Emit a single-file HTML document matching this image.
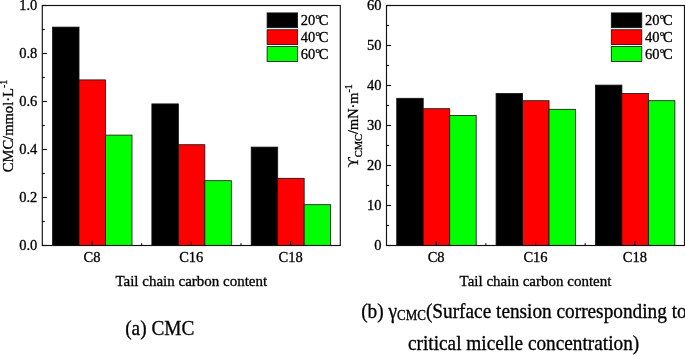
<!DOCTYPE html>
<html><head><meta charset="utf-8"><style>
html,body{margin:0;padding:0;background:#fff;}
svg{display:block;will-change:transform;}
.t{font-family:"Liberation Serif",serif;font-size:14.5px;fill:#000;stroke:#000;stroke-width:0.3px;}
.c{font-family:"Liberation Serif",serif;font-size:19.3px;fill:#000;stroke:#000;stroke-width:0.3px;}
</style></head><body>
<svg width="685" height="355" viewBox="0 0 685 355">
<rect x="0" y="0" width="685" height="355" fill="#fff"/>
<rect x="52.53" y="27.10" width="26.49" height="218.40" fill="#000000" stroke="#111" stroke-width="0.8"/>
<rect x="79.02" y="79.90" width="26.49" height="165.60" fill="#ff0000" stroke="#111" stroke-width="0.8"/>
<rect x="105.51" y="135.10" width="26.49" height="110.40" fill="#00ff00" stroke="#111" stroke-width="0.8"/>
<rect x="151.87" y="103.90" width="26.49" height="141.60" fill="#000000" stroke="#111" stroke-width="0.8"/>
<rect x="178.36" y="144.70" width="26.49" height="100.80" fill="#ff0000" stroke="#111" stroke-width="0.8"/>
<rect x="204.84" y="180.70" width="26.49" height="64.80" fill="#00ff00" stroke="#111" stroke-width="0.8"/>
<rect x="251.20" y="147.10" width="26.49" height="98.40" fill="#000000" stroke="#111" stroke-width="0.8"/>
<rect x="277.69" y="178.30" width="26.49" height="67.20" fill="#ff0000" stroke="#111" stroke-width="0.8"/>
<rect x="304.18" y="204.70" width="26.49" height="40.80" fill="#00ff00" stroke="#111" stroke-width="0.8"/>
<rect x="42.3" y="5.5" width="298.0" height="240.0" fill="none" stroke="#111" stroke-width="1.15"/>
<line x1="42.3" y1="245.50" x2="46.9" y2="245.50" stroke="#111" stroke-width="1.15"/>
<text x="37.3" y="250.40" text-anchor="end" class="t">0.0</text>
<line x1="42.3" y1="221.50" x2="44.8" y2="221.50" stroke="#111" stroke-width="1.15"/>
<line x1="42.3" y1="197.50" x2="46.9" y2="197.50" stroke="#111" stroke-width="1.15"/>
<text x="37.3" y="202.40" text-anchor="end" class="t">0.2</text>
<line x1="42.3" y1="173.50" x2="44.8" y2="173.50" stroke="#111" stroke-width="1.15"/>
<line x1="42.3" y1="149.50" x2="46.9" y2="149.50" stroke="#111" stroke-width="1.15"/>
<text x="37.3" y="154.40" text-anchor="end" class="t">0.4</text>
<line x1="42.3" y1="125.50" x2="44.8" y2="125.50" stroke="#111" stroke-width="1.15"/>
<line x1="42.3" y1="101.50" x2="46.9" y2="101.50" stroke="#111" stroke-width="1.15"/>
<text x="37.3" y="106.40" text-anchor="end" class="t">0.6</text>
<line x1="42.3" y1="77.50" x2="44.8" y2="77.50" stroke="#111" stroke-width="1.15"/>
<line x1="42.3" y1="53.50" x2="46.9" y2="53.50" stroke="#111" stroke-width="1.15"/>
<text x="37.3" y="58.40" text-anchor="end" class="t">0.8</text>
<line x1="42.3" y1="29.50" x2="44.8" y2="29.50" stroke="#111" stroke-width="1.15"/>
<line x1="42.3" y1="5.50" x2="46.9" y2="5.50" stroke="#111" stroke-width="1.15"/>
<text x="37.3" y="10.40" text-anchor="end" class="t">1.0</text>
<line x1="91.97" y1="245.5" x2="91.97" y2="241.1" stroke="#111" stroke-width="1.15"/>
<line x1="141.63" y1="245.5" x2="141.63" y2="243.2" stroke="#111" stroke-width="1.15"/>
<text x="91.97" y="261.7" text-anchor="middle" class="t">C8</text>
<line x1="191.30" y1="245.5" x2="191.30" y2="241.1" stroke="#111" stroke-width="1.15"/>
<line x1="240.97" y1="245.5" x2="240.97" y2="243.2" stroke="#111" stroke-width="1.15"/>
<text x="191.30" y="261.7" text-anchor="middle" class="t">C16</text>
<line x1="290.63" y1="245.5" x2="290.63" y2="241.1" stroke="#111" stroke-width="1.15"/>
<text x="290.63" y="261.7" text-anchor="middle" class="t">C18</text>
<text x="191.30" y="285.8" text-anchor="middle" class="t" style="font-size:15px">Tail chain carbon content</text>
<rect x="267.10" y="12.90" width="30.5" height="14.8" fill="#000000" stroke="#111" stroke-width="0.8"/>
<text x="300.80" y="24.80" class="t">20<tspan font-size="12.5" dy="-1.9">°</tspan><tspan dx="-1.5" dy="1.9">C</tspan></text>
<rect x="267.10" y="29.75" width="30.5" height="14.8" fill="#ff0000" stroke="#111" stroke-width="0.8"/>
<text x="300.80" y="41.65" class="t">40<tspan font-size="12.5" dy="-1.9">°</tspan><tspan dx="-1.5" dy="1.9">C</tspan></text>
<rect x="267.10" y="46.60" width="30.5" height="14.8" fill="#00ff00" stroke="#111" stroke-width="0.8"/>
<text x="300.80" y="58.50" class="t">60<tspan font-size="12.5" dy="-1.9">°</tspan><tspan dx="-1.5" dy="1.9">C</tspan></text>
<rect x="396.73" y="98.30" width="26.49" height="147.20" fill="#000000" stroke="#111" stroke-width="0.8"/>
<rect x="423.22" y="108.70" width="26.49" height="136.80" fill="#ff0000" stroke="#111" stroke-width="0.8"/>
<rect x="449.71" y="115.50" width="26.49" height="130.00" fill="#00ff00" stroke="#111" stroke-width="0.8"/>
<rect x="496.07" y="93.50" width="26.49" height="152.00" fill="#000000" stroke="#111" stroke-width="0.8"/>
<rect x="522.56" y="100.70" width="26.49" height="144.80" fill="#ff0000" stroke="#111" stroke-width="0.8"/>
<rect x="549.04" y="109.30" width="26.49" height="136.20" fill="#00ff00" stroke="#111" stroke-width="0.8"/>
<rect x="595.40" y="85.10" width="26.49" height="160.40" fill="#000000" stroke="#111" stroke-width="0.8"/>
<rect x="621.89" y="93.50" width="26.49" height="152.00" fill="#ff0000" stroke="#111" stroke-width="0.8"/>
<rect x="648.38" y="100.70" width="26.49" height="144.80" fill="#00ff00" stroke="#111" stroke-width="0.8"/>
<rect x="386.5" y="5.5" width="298.0" height="240.0" fill="none" stroke="#111" stroke-width="1.15"/>
<line x1="386.5" y1="245.50" x2="391.1" y2="245.50" stroke="#111" stroke-width="1.15"/>
<text x="381.5" y="250.40" text-anchor="end" class="t">0</text>
<line x1="386.5" y1="225.50" x2="389.0" y2="225.50" stroke="#111" stroke-width="1.15"/>
<line x1="386.5" y1="205.50" x2="391.1" y2="205.50" stroke="#111" stroke-width="1.15"/>
<text x="381.5" y="210.40" text-anchor="end" class="t">10</text>
<line x1="386.5" y1="185.50" x2="389.0" y2="185.50" stroke="#111" stroke-width="1.15"/>
<line x1="386.5" y1="165.50" x2="391.1" y2="165.50" stroke="#111" stroke-width="1.15"/>
<text x="381.5" y="170.40" text-anchor="end" class="t">20</text>
<line x1="386.5" y1="145.50" x2="389.0" y2="145.50" stroke="#111" stroke-width="1.15"/>
<line x1="386.5" y1="125.50" x2="391.1" y2="125.50" stroke="#111" stroke-width="1.15"/>
<text x="381.5" y="130.40" text-anchor="end" class="t">30</text>
<line x1="386.5" y1="105.50" x2="389.0" y2="105.50" stroke="#111" stroke-width="1.15"/>
<line x1="386.5" y1="85.50" x2="391.1" y2="85.50" stroke="#111" stroke-width="1.15"/>
<text x="381.5" y="90.40" text-anchor="end" class="t">40</text>
<line x1="386.5" y1="65.50" x2="389.0" y2="65.50" stroke="#111" stroke-width="1.15"/>
<line x1="386.5" y1="45.50" x2="391.1" y2="45.50" stroke="#111" stroke-width="1.15"/>
<text x="381.5" y="50.40" text-anchor="end" class="t">50</text>
<line x1="386.5" y1="25.50" x2="389.0" y2="25.50" stroke="#111" stroke-width="1.15"/>
<line x1="386.5" y1="5.50" x2="391.1" y2="5.50" stroke="#111" stroke-width="1.15"/>
<text x="381.5" y="10.40" text-anchor="end" class="t">60</text>
<line x1="436.17" y1="245.5" x2="436.17" y2="241.1" stroke="#111" stroke-width="1.15"/>
<line x1="485.83" y1="245.5" x2="485.83" y2="243.2" stroke="#111" stroke-width="1.15"/>
<text x="436.17" y="261.7" text-anchor="middle" class="t">C8</text>
<line x1="535.50" y1="245.5" x2="535.50" y2="241.1" stroke="#111" stroke-width="1.15"/>
<line x1="585.17" y1="245.5" x2="585.17" y2="243.2" stroke="#111" stroke-width="1.15"/>
<text x="535.50" y="261.7" text-anchor="middle" class="t">C16</text>
<line x1="634.83" y1="245.5" x2="634.83" y2="241.1" stroke="#111" stroke-width="1.15"/>
<text x="634.83" y="261.7" text-anchor="middle" class="t">C18</text>
<text x="535.50" y="285.8" text-anchor="middle" class="t" style="font-size:15px">Tail chain carbon content</text>
<rect x="611.30" y="12.90" width="30.5" height="14.8" fill="#000000" stroke="#111" stroke-width="0.8"/>
<text x="645.00" y="24.80" class="t">20<tspan font-size="12.5" dy="-1.9">°</tspan><tspan dx="-1.5" dy="1.9">C</tspan></text>
<rect x="611.30" y="29.75" width="30.5" height="14.8" fill="#ff0000" stroke="#111" stroke-width="0.8"/>
<text x="645.00" y="41.65" class="t">40<tspan font-size="12.5" dy="-1.9">°</tspan><tspan dx="-1.5" dy="1.9">C</tspan></text>
<rect x="611.30" y="46.60" width="30.5" height="14.8" fill="#00ff00" stroke="#111" stroke-width="0.8"/>
<text x="645.00" y="58.50" class="t">60<tspan font-size="12.5" dy="-1.9">°</tspan><tspan dx="-1.5" dy="1.9">C</tspan></text>
<text transform="translate(13.2,126) rotate(-90)" text-anchor="middle" class="t" style="font-size:14.6px">CMC/mmol·L<tspan dy="-6" font-size="10">-1</tspan></text>
<text transform="translate(358,125.9) rotate(-90)" text-anchor="middle" class="t" style="font-size:14.3px">ϒ<tspan dy="3.8" font-size="10.5">CMC</tspan><tspan dy="-3.8">/mN·m</tspan><tspan dy="-6" font-size="10">-1</tspan></text>
<text transform="translate(125.2,334.8) scale(1,1.05)" class="c">(a) CMC</text>
<text transform="translate(361.2,318.4) scale(1,1.05)" class="c">(b) γ<tspan font-size="13" dy="1.8">CMC</tspan><tspan dy="-1.8">(</tspan>Surface tension corresponding to</text>
<text transform="translate(408,350.3) scale(1,1.05)" class="c">critical micelle concentration)</text>
</svg>
</body></html>
